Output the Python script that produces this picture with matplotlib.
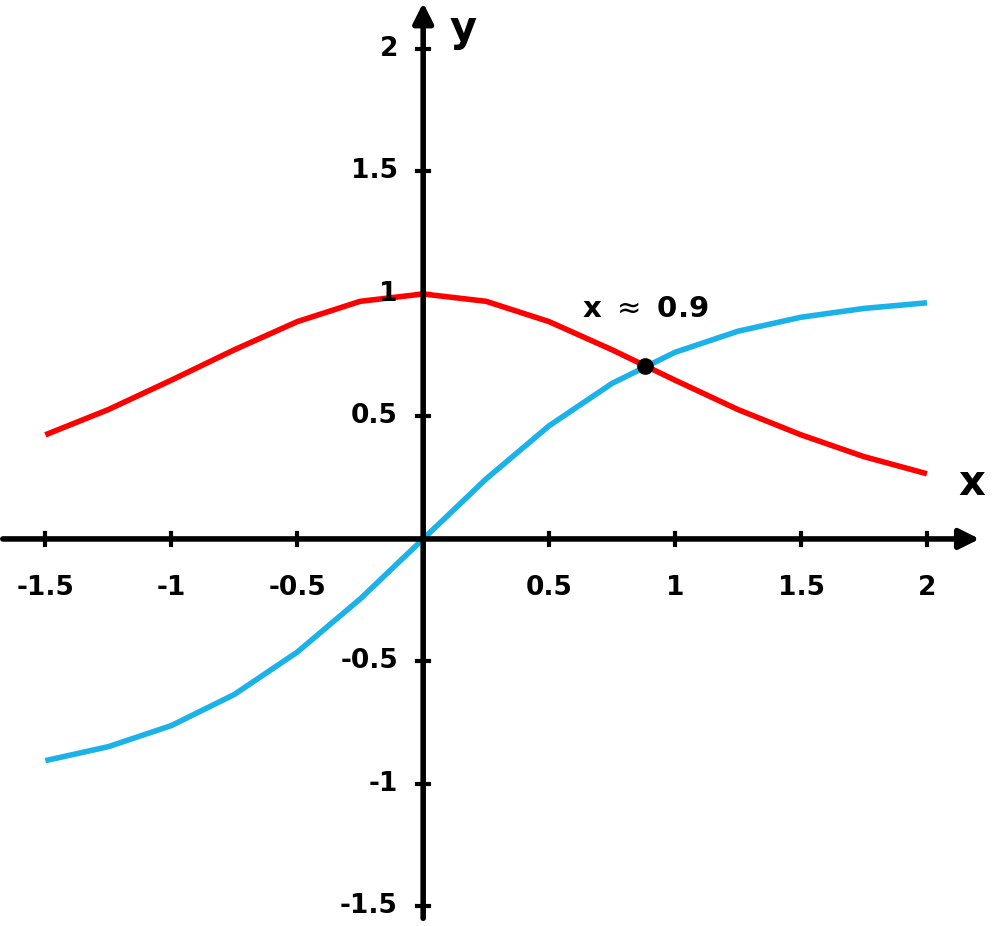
import matplotlib.pyplot as plt

# values
xs = [-1.5, -1.25, -1, -0.75, -0.5, -0.25, 0, 0.25, 0.5, 0.75, 1, 1.25, 1.5, 1.75, 2]
blue_y = [-0.905, -0.848, -0.762, -0.635, -0.462, -0.245, 0, 0.245, 0.462, 0.635,
          0.762, 0.848, 0.905, 0.941, 0.964]
red_y = [0.425, 0.528, 0.648, 0.772, 0.887, 0.970, 1, 0.970, 0.887, 0.772,
         0.648, 0.528, 0.425, 0.336, 0.266]
cross_x, cross_y = 0.881, 0.707
xticks = [-1.5, -1, -0.5, 0.5, 1, 1.5, 2]
yticks = [-1.5, -1, -0.5, 0.5, 1, 1.5, 2]
fmt = lambda v: f"{v:g}"

fig = plt.figure(figsize=(10, 9.26), dpi=100)
ax = fig.add_axes([0, 0, 1, 1])
ax.set_xlim(-1.68, 2.29)
ax.set_ylim(-1.58, 2.2)
ax.axis('off')

ax.plot(xs, red_y, color='#ff0000', lw=4, solid_capstyle='butt', zorder=3)
ax.plot(xs, blue_y, color='#1ab2e8', lw=4, solid_capstyle='butt', zorder=3)
ax.plot(cross_x, cross_y, 'o', color='black', ms=11, zorder=4)
ax.text(cross_x, 0.94, r'x $\approx$ 0.9', ha='center', va='center',
        fontsize=21, fontweight='bold')

# axes with arrows
ax.annotate('', xy=(2.22, 0), xytext=(-1.68, 0),
            arrowprops=dict(arrowstyle='-|>', lw=4, color='black', mutation_scale=30))
ax.annotate('', xy=(0, 2.2), xytext=(0, -1.56),
            arrowprops=dict(arrowstyle='-|>', lw=4, color='black', mutation_scale=30))
ax.text(2.18, 0.23, 'x', fontsize=30, fontweight='bold', ha='center', va='center')
ax.text(0.16, 2.08, 'y', fontsize=30, fontweight='bold', ha='center', va='center')

for v in xticks:
    ax.plot([v, v], [-0.025, 0.025], color='black', lw=3)
    ax.text(v, -0.2, fmt(v), ha='center', va='center', fontsize=19, fontweight='bold')
for v in yticks:
    ax.plot([-0.025, 0.025], [v, v], color='black', lw=3)
    ax.text(-0.1, v, fmt(v), ha='right', va='center', fontsize=19, fontweight='bold')

fig.savefig('out.png', dpi=100)
